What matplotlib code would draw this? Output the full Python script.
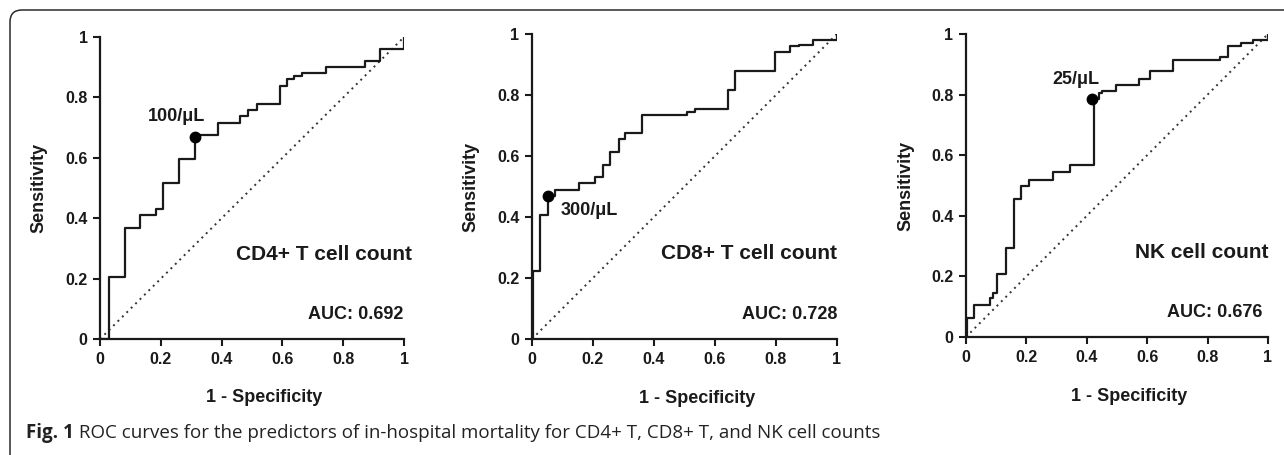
import numpy as np
import matplotlib.pyplot as plt
from matplotlib.patches import FancyBboxPatch

# ROC points (1 - specificity, sensitivity)
cd4_fpr = [0.0, 0.029, 0.082, 0.131, 0.183, 0.207, 0.26, 0.312, 0.389, 0.462, 0.487,
           0.515, 0.592, 0.614, 0.637, 0.663, 0.743, 0.872, 0.921, 1.0]
cd4_tpr = [0.0, 0.207, 0.369, 0.41, 0.43, 0.515, 0.595, 0.675, 0.714, 0.738, 0.758,
           0.777, 0.838, 0.86, 0.872, 0.881, 0.9, 0.919, 0.96, 1.0]

cd8_fpr = [0.0, 0.005, 0.027, 0.053, 0.077, 0.153, 0.208, 0.233, 0.257, 0.284, 0.306,
           0.361, 0.51, 0.536, 0.643, 0.667, 0.796, 0.847, 0.875, 0.923, 1.0]
cd8_tpr = [0.0, 0.224, 0.408, 0.468, 0.487, 0.511, 0.531, 0.572, 0.613, 0.656, 0.675,
           0.736, 0.745, 0.755, 0.817, 0.88, 0.941, 0.96, 0.965, 0.98, 1.0]

nk_fpr = [0.0, 0.004, 0.026, 0.079, 0.09, 0.104, 0.132, 0.159, 0.182, 0.209, 0.289,
          0.344, 0.424, 0.441, 0.45, 0.498, 0.573, 0.608, 0.686, 0.84, 0.868, 0.91,
          0.95, 1.0]
nk_tpr = [0.0, 0.063, 0.107, 0.129, 0.145, 0.209, 0.294, 0.456, 0.5, 0.519, 0.543,
          0.567, 0.787, 0.805, 0.813, 0.832, 0.853, 0.877, 0.915, 0.925, 0.959, 0.97,
          0.981, 1.0]

titles = ["CD4+ T cell count", "CD8+ T cell count", "NK cell count"]
aucs = ["AUC: 0.692", "AUC: 0.728", "AUC: 0.676"]
cut_labels = ["100/\u03bcL", "300/\u03bcL", "25/\u03bcL"]
cut_x = [0.312, 0.051, 0.419]
cut_y = [0.67, 0.468, 0.787]
ticks = [0, 0.2, 0.4, 0.6, 0.8, 1]
tick_labels = ["0", "0.2", "0.4", "0.6", "0.8", "1"]

plt.rcParams['font.family'] = ['Liberation Sans', 'DejaVu Sans']
plt.rcParams['font.weight'] = 'bold'
ink = '#1a1a1a'

fig = plt.figure(figsize=(12.84, 4.55), dpi=100)

# rounded frame around the figure (opens off the right and bottom edge)
frame = FancyBboxPatch((0.10, -1.0), 14.0, 5.45, boxstyle="round,pad=0,rounding_size=0.12",
                       transform=fig.dpi_scale_trans, fill=False, edgecolor='#2a2a2a', lw=1.1)
fig.patches.append(frame)

rects = [[0.0779, 0.2549, 0.2368, 0.6637],
         [0.4143, 0.2549, 0.2375, 0.6703],
         [0.7523, 0.2593, 0.2352, 0.6659]]
curves = [(cd4_fpr, cd4_tpr), (cd8_fpr, cd8_tpr), (nk_fpr, nk_tpr)]
# label placement for cut-off text: (x, y, ha)
cut_pos = [(0.25, 0.736, 'center'), (0.093, 0.422, 'left'), (0.364, 0.85, 'center')]
title_x = [1.025, 1.0, 1.003]
auc_x = [0.998, 1.0, 0.98]

for i in range(3):
    ax = fig.add_axes(rects[i])
    fpr, tpr = curves[i]
    ax.plot([0, 1], [0, 1], ls=(0, (1, 2.2)), color='#333333', lw=1.4)
    ax.plot(fpr, tpr, drawstyle='steps-post', color=ink, lw=1.6)
    ax.plot(cut_x[i], cut_y[i], 'o', color='black', ms=7.5)
    px, py, ha = cut_pos[i]
    ax.text(px, py, cut_labels[i], ha=ha, va='center', fontsize=13, color=ink)
    ax.text(title_x[i], 0.28, titles[i], ha='right', va='center', fontsize=15, color=ink)
    ax.text(auc_x[i], 0.08, aucs[i], ha='right', va='center', fontsize=13, color=ink)

    ax.set_xlim(0, 1)
    ax.set_ylim(0, 1)
    ax.set_xticks(ticks)
    ax.set_xticklabels(tick_labels)
    ax.set_yticks(ticks)
    ax.set_yticklabels(tick_labels)
    ax.tick_params(direction='out', length=5, width=1.5, labelsize=11.5, colors=ink, pad=4)
    for s in ['top', 'right']:
        ax.spines[s].set_visible(False)
    for s in ['left', 'bottom']:
        ax.spines[s].set_linewidth(1.6)
        ax.spines[s].set_color(ink)
    ax.patch.set_alpha(0)
    ax.set_xlabel("1 - Specificity", fontsize=13, fontweight='bold', color=ink, va='center')
    ax.set_ylabel("Sensitivity", fontsize=13, fontweight='bold', color=ink, va='center')
    ax.xaxis.set_label_coords(0.54, -0.195)
    ax.yaxis.set_label_coords(-0.2, 0.5)

cap1 = fig.text(26 / 1284, 1 - 433 / 455, "Fig. 1", fontsize=13.5, fontweight='bold',
                family=['Open Sans', 'DejaVu Sans'], color='#222222', va='center')
fig.text(0, 0, "", fontsize=1)
plt.annotate(" ROC curves for the predictors of in-hospital mortality for CD4+ T, CD8+ T, and NK cell counts",
             xy=(1, 0.5), xycoords=cap1, va='center', ha='left', fontsize=13.5, fontweight='normal',
             family=['Open Sans', 'DejaVu Sans'], color='#222222', annotation_clip=False)

fig.savefig("out.png", dpi=100)
